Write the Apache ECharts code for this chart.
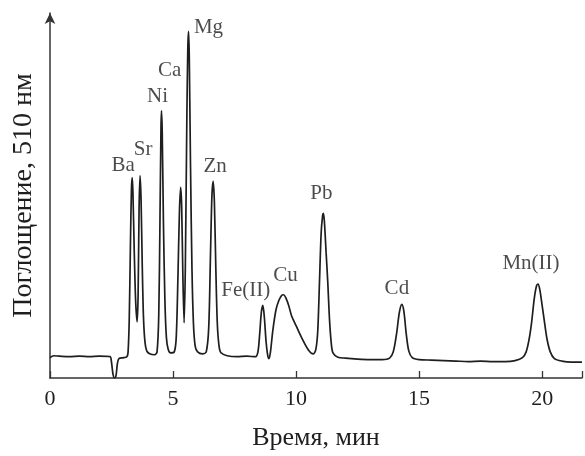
<!DOCTYPE html>
<html>
<head>
<meta charset="utf-8">
<script src="https://cdn.jsdelivr.net/npm/echarts@6/dist/echarts.min.js"></script>
<style>
html,body{margin:0;padding:0;background:#fff;}
#chart{width:585px;height:456px;}
</style>
</head>
<body>
<div id="chart"></div>
<script>
// Chromatogram: retention time (min) and absorbance (arbitrary units)
const time = [0,0.15,0.4,0.8,1.2,1.6,2.0,2.44,2.5,2.56,2.62,2.68,2.74,2.8,3.0,3.12,3.17,3.22,3.27,3.31,3.34,3.37,3.42,3.48,3.54,3.58,3.62,3.66,3.7,3.75,3.8,3.86,3.93,4.05,4.25,4.35,4.42,4.47,4.51,4.53,4.56,4.61,4.67,4.73,4.8,4.9,5.05,5.13,5.2,5.26,5.31,5.35,5.4,5.45,5.5,5.56,5.6,5.63,5.66,5.71,5.77,5.83,5.9,6.0,6.2,6.35,6.45,6.52,6.58,6.63,6.68,6.74,6.8,6.87,6.95,7.2,7.6,8.0,8.35,8.45,8.52,8.59,8.65,8.71,8.78,8.85,8.9,8.96,9.05,9.18,9.3,9.42,9.49,9.58,9.7,9.82,10.0,10.22,10.5,10.7,10.8,10.88,10.95,11.02,11.08,11.11,11.15,11.22,11.29,11.36,11.43,11.5,11.7,12.0,12.5,13.0,13.5,13.8,13.95,14.08,14.2,14.3,14.38,14.48,14.58,14.72,15.0,15.5,16.0,16.5,17.0,17.5,18.0,18.5,18.9,19.2,19.35,19.47,19.57,19.68,19.77,19.83,19.9,20.0,20.1,20.2,20.33,20.5,20.8,21.2,21.62];
const absorbance = [21,23,22.5,22,22.5,22,22.5,22,16,4,0,2,15,20,21,22,26,60,140,195,207,192,135,80,58,85,175,209,185,115,62,37,28,25,24,27,65,165,258,276,255,160,80,42,30,26,27,42,105,172,197,178,105,57,115,265,340,358,332,220,112,56,33,27,25,27,52,125,188,203,182,112,56,33,26,23,22,22.5,22,27,45,68,75,63,38,23,20,27,48,70,80,85.5,86,83,75,64,54,42,29,25,29,48,98,150,168,170,162,130,98,60,36,26,21.5,20.5,19.5,19,19,20.5,27,45,68,76,69,45,28,21,19,18.5,18,17.5,17,17.5,17,17,18,21,27,40,57,82,95,97,92,75,57,40,27,20,17.5,16.5,16.5];

// Peak identifications (apex time, apex height)
const peakNames = ['Ba','Sr','Ni','Ca','Mg','Zn','Fe(II)','Cu','Pb','Cd','Mn(II)'];
const peakTimes = [3.34,3.66,4.53,5.31,5.63,6.63,8.65,9.49,11.11,14.3,19.83];
const peakHeights = [207,209,276,197,358,203,75,86,170,76,97];

// x-axis tick labels
const xTicks = [0,5,10,15,20];

// label pixel offsets (style only)
const labelOffsets = {
  'Ba':[-9,-12],'Sr':[3,-26],'Ni':[-4,-14],'Ca':[-11,-117],'Mg':[20,-4],'Zn':[2,-15],
  'Fe(II)':[-17,-15],'Cu':[2,-19],'Pb':[-2,-20],'Cd':[-5,-16],'Mn(II)':[-7,-21]
};

const FONT = 'Liberation Serif';
const INK = '#1e1e1e';

const lineData = time.map((t, i) => [t, absorbance[i]]);
const labelData = peakNames.map((n, i) => ({
  value: [peakTimes[i], peakHeights[i]],
  name: n,
  label: { offset: labelOffsets[n] }
}));

const chart = echarts.init(document.getElementById('chart'), null, {renderer: 'canvas'});
chart.setOption({
  animation: false,
  backgroundColor: '#fff',
  grid: { left: 50, right: 0, top: 13, bottom: 66, containLabel: false },
  xAxis: {
    type: 'value', min: 0, max: 21.62, interval: 5,
    name: 'Время, мин', nameLocation: 'middle', nameGap: 47,
    nameTextStyle: { fontFamily: FONT, fontSize: 26, color: INK },
    axisLine: { show: true, lineStyle: { color: '#333', width: 1.5 } },
    axisTick: { show: true, inside: true, length: 7, lineStyle: { color: '#333', width: 1.3 } },
    axisLabel: {
      fontFamily: FONT, fontSize: 22, color: INK, margin: 10,
      formatter: v => (xTicks.indexOf(v) >= 0 ? String(v) : '')
    },
    splitLine: { show: false }
  },
  yAxis: {
    type: 'value', min: 0, max: 377,
    name: 'Поглощение, 510 нм', nameLocation: 'middle', nameGap: 12,
    nameTextStyle: { fontFamily: FONT, fontSize: 28, color: INK },
    axisLine: { show: true, symbol: ['none', 'arrow'], symbolSize: [8, 11], symbolOffset: [0, 0],
      lineStyle: { color: '#333', width: 1.5 } },
    axisTick: { show: false },
    axisLabel: { show: false },
    splitLine: { show: false }
  },
  series: [
    {
      type: 'line', data: lineData, showSymbol: false, smooth: 0.3,
      lineStyle: { color: INK, width: 1.7 }, clip: true
    },
    {
      type: 'scatter', data: labelData, symbolSize: 0,
      label: {
        show: true, position: 'inside', formatter: p => p.name,
        fontFamily: FONT, fontSize: 21, color: INK, align: 'center', verticalAlign: 'middle'
      },
      silent: true
    }
  ]
});
</script>
</body>
</html>
